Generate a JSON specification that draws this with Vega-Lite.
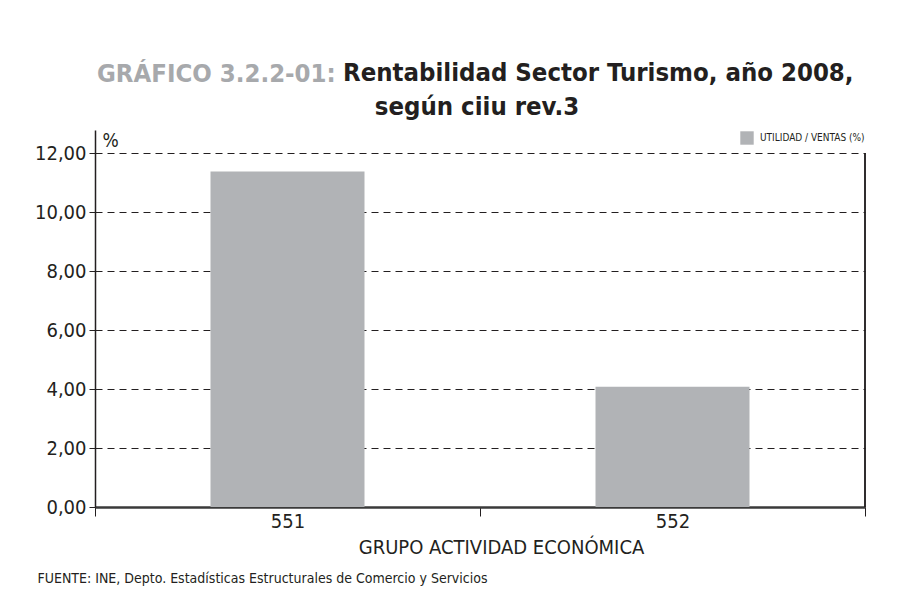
{
  "$schema": "https://vega.github.io/schema/vega-lite/v6.json",
  "background": "white",
  "padding": {"left": 34, "top": 61, "right": 5, "bottom": 5},
  "config": {
    "font": "DejaVu Sans Condensed, DejaVu Sans, sans-serif",
    "view": {"stroke": null},
    "axis": {"labelFont": "DejaVu Sans Condensed, DejaVu Sans, sans-serif", "titleFont": "DejaVu Sans Condensed, DejaVu Sans, sans-serif"},
    "legend": {"labelFont": "DejaVu Sans Condensed, DejaVu Sans, sans-serif"}
  },
  "title": {
    "text": "GRÁFICO 3.2.2-01:",
    "subtitle": "Rentabilidad Sector Turismo, año 2008,",
    "anchor": "start",
    "align": "left",
    "frame": "group",
    "dx": 248,
    "encoding": {"dx": {"value": 2}},
    "font": "DejaVu Sans Condensed, DejaVu Sans, sans-serif",
    "fontSize": 25.5,
    "fontWeight": "bold",
    "color": "#a7a9ac",
    "subtitleFont": "DejaVu Sans Condensed, DejaVu Sans, sans-serif",
    "subtitleFontSize": 25.5,
    "subtitleFontWeight": "bold",
    "subtitleColor": "#231f20",
    "subtitlePadding": -26,
    "offset": 7
  },
  "vconcat": [
    {
      "width": 770,
      "height": 377,
      "title": {
        "text": "según ciiu rev.3",
        "anchor": "middle",
        "frame": "group",
        "dx": -3,
        "font": "DejaVu Sans Condensed, DejaVu Sans, sans-serif",
        "fontSize": 25.5,
        "fontWeight": "bold",
        "color": "#231f20",
        "offset": 10
      },
      "data": {
        "values": [
          {"grupo": "551", "valor": 11.37, "serie": "UTILIDAD / VENTAS (%)"},
          {"grupo": "552", "valor": 4.08, "serie": "UTILIDAD / VENTAS (%)"}
        ]
      },
      "resolve": {"scale": {"x": "independent"}, "axis": {"x": "independent"}},
      "layer": [
        {
          "mark": {"type": "bar", "width": {"band": 0.4}},
          "encoding": {
            "x": {
              "field": "grupo",
              "type": "nominal",
              "scale": {"paddingInner": 0, "paddingOuter": 0},
              "axis": {
                "orient": "bottom",
                "labelAngle": 0,
                "labelFontSize": 20,
                "labelColor": "#231f20",
                "labelPadding": -5,
                "tickBand": "extent",
                "tickSize": 9,
                "tickColor": "#231f20",
                "tickWidth": 1,
                "domainColor": "#3a3a3a",
                "domainWidth": 2.5,
                "title": "GRUPO ACTIVIDAD ECONÓMICA",
                "titleFontSize": 20,
                "titleFontWeight": "normal",
                "titleColor": "#231f20",
                "titleX": 406,
                "titlePadding": 6
              }
            },
            "y": {
              "field": "valor",
              "type": "quantitative",
              "scale": {"domain": [0, 12.78], "nice": false},
              "axis": {
                "values": [0, 2, 4, 6, 8, 10, 12],
                "labelExpr": "replace(format(datum.value, '.2f'), '.', ',')",
                "labelFontSize": 20,
                "labelColor": "#231f20",
                "labelPadding": 3,
                "tickSize": 6,
                "tickColor": "#231f20",
                "domainColor": "#231f20",
                "domainWidth": 1.5,
                "grid": true,
                "gridColor": "#231f20",
                "gridDash": [7, 5],
                "gridWidth": 1,
                "title": "%",
                "titleAngle": 0,
                "titleX": 7,
                "titleY": 10,
                "titleAlign": "left",
                "titleBaseline": "middle",
                "titleFontSize": 19,
                "titleFontWeight": "normal",
                "titleColor": "#231f20"
              }
            },
            "color": {
              "field": "serie",
              "type": "nominal",
              "scale": {"range": ["#b1b3b6"]},
              "legend": {
                "title": null,
                "orient": "none",
                "legendX": 645,
                "legendY": 1,
                "symbolType": "square",
                "symbolSize": 180,
                "symbolStrokeWidth": 0,
                "labelFontSize": 10,
                "labelColor": "#231f20",
                "labelOffset": 6,
                "padding": 0
              }
            }
          }
        },
        {
          "mark": {"type": "rule", "color": "#231f20", "strokeWidth": 1.5},
          "encoding": {
            "x": {
              "datum": 1,
              "type": "quantitative",
              "scale": {"domain": [0, 1]},
              "axis": {
                "orient": "bottom",
                "labels": false,
                "ticks": false,
                "domain": false,
                "grid": false,
                "title": "FUENTE: INE, Depto. Estadísticas Estructurales de Comercio y Servicios",
                "titleX": -58,
                "titleY": 71,
                "titleAlign": "left",
                "titleBaseline": "middle",
                "titleFontSize": 14,
                "titleFontWeight": "normal",
                "titleColor": "#231f20"
              }
            },
            "y": {"datum": 0, "type": "quantitative"},
            "y2": {"datum": 12}
          }
        }
      ]
    }
  ]
}
